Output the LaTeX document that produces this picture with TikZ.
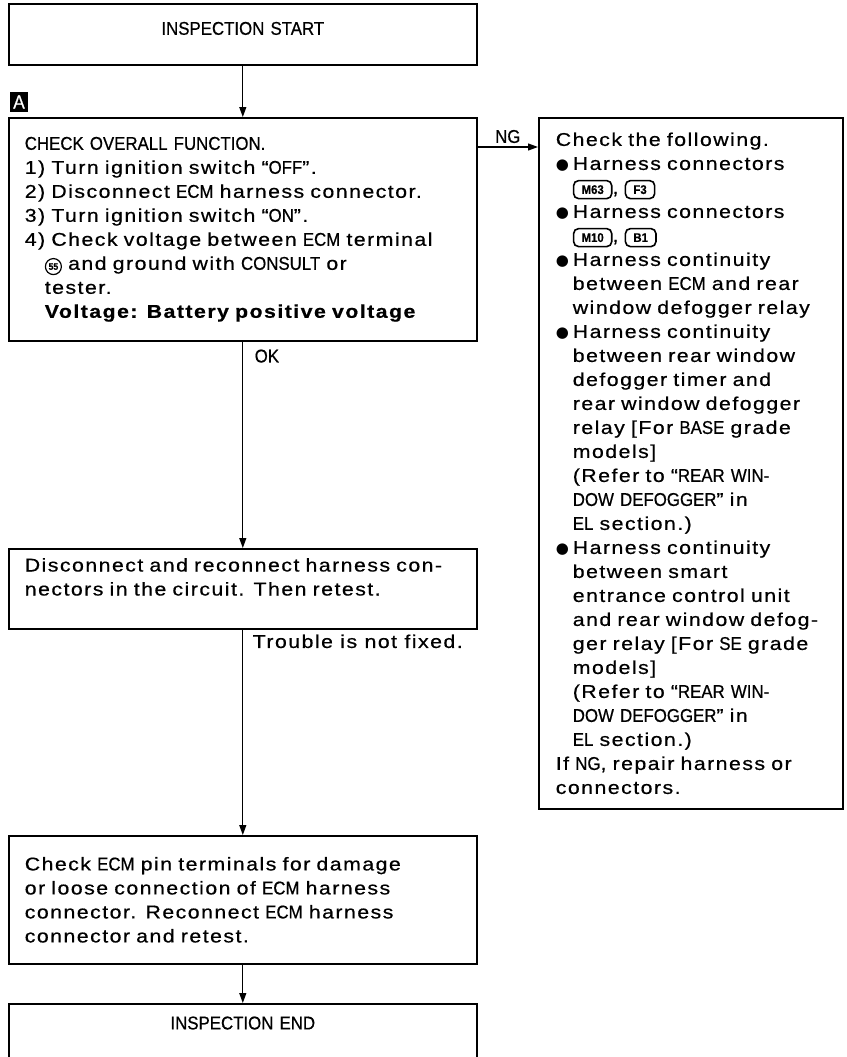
\documentclass[tikz,border=0pt]{standalone}
\usepackage{fontspec}
\setmainfont{Liberation Sans}[FakeStretch=1.15, LetterSpace=8, FakeBold=0.6]
\newfontfamily\capsfont{Liberation Sans}[FakeStretch=0.91, FakeBold=0.6]
\newfontfamily\symfont{DejaVu Sans}
\usetikzlibrary{arrows.meta}

\tikzset{
  flowbox/.style={draw, line width=1.6pt, anchor=north west, align=left,
    text width=436pt, inner xsep=16pt},
  sidebox/.style={draw, line width=1.6pt, anchor=north west, align=left,
    text width=280pt, inner xsep=12pt},
  badge/.style={fill=black, text=white, minimum width=18pt, minimum height=20pt,
    inner sep=0pt, font=\capsfont\fontsize{19}{19}\selectfont},
  connmark/.style={draw, line width=1.6pt, rounded corners=5pt, anchor=center,
    text width={}, align=center, minimum width=0pt, minimum height=18pt,
    inner xsep=8pt, inner ysep=2pt, font=\capsfont\fontsize{12.5}{12.5}\selectfont\bfseries},
  termmark/.style={draw, circle, line width=1.2pt, anchor=center, text width={},
    align=center, minimum width=16pt, minimum height=16pt, inner sep=0pt,
    font=\capsfont\fontsize{9.5}{9.5}\selectfont\bfseries},
  arr/.style={->, line width=1.2pt}
}

% caps runs, connector mark, circled terminal, bullet, indents
\newcommand\cp[1]{{\capsfont #1}}
\newcommand\conn[1]{\tikz[baseline=(c.base)]\node[connmark] (c) {#1};}
\newcommand\term[1]{\tikz[baseline=(t.base)]\node[termmark] (t) {#1};}
\newcommand\itm{\makebox[17pt][l]{\symfont\fontsize{15}{15}\selectfont ●}}
\newcommand\ind{\hspace*{17pt}}
\newcommand\stp{\hspace*{20pt}}
\newcommand\nowrap{\rightskip=0pt plus 1fil minus 100pt\relax}

\begin{document}
\begin{tikzpicture}[x=1pt, y=-1pt, >={Triangle[length=10pt,width=7pt]},
  font=\fontsize{18.5}{24}\selectfont]
  \useasboundingbox (0,0) rectangle (846,1057);
  \clip (0,0) rectangle (846,1057);

  % boxes of the main line
  \node[flowbox, align=center, text height=14pt, text depth=13pt, inner ysep=17pt] (start) at (8,3) {\cp{INSPECTION START}};
  \node[badge] (mark) at (19,102) {A};
  \node[flowbox, minimum height=223pt] (chk) at (8,117) {\nowrap\cp{CHECK OVERALL FUNCTION.}\\
    1) Turn ignition switch “\cp{OFF}”.\\
    2) Disconnect \cp{ECM} harness connector.\\
    3) Turn ignition switch “\cp{ON}”.\\
    4) Check voltage between \cp{ECM} terminal\\
    \stp\term{55} and ground with \cp{CONSULT} or\\
    \stp tester.\\
    \stp\textbf{Voltage: Battery positive voltage}\par};
  \node[flowbox, minimum height=80pt] (retry) at (8,548) {\nowrap Disconnect and reconnect harness con-\\
    nectors in the circuit. Then retest.\\ \mbox{}};
  \node[flowbox, minimum height=128pt] (pins) at (8,835) {\nowrap Check \cp{ECM} pin terminals for damage\\
    or loose connection of \cp{ECM} harness\\
    connector. Reconnect \cp{ECM} harness\\
    connector and retest.\par};
  \node[flowbox, align=center, text height=13.6pt, text depth=40pt, inner ysep=12pt] (finish) at (8,1003) {\cp{INSPECTION END}};

  % NG side box
  \node[sidebox, minimum height=691pt] (fix) at (538,117) {\nowrap\leftskip=5pt Check the following.\\
    \itm Harness connectors\\
    \ind\conn{M63}, \conn{F3}\\
    \itm Harness connectors\\
    \ind\conn{M10}, \conn{B1}\\
    \itm Harness continuity\\
    \ind between \cp{ECM} and rear\\
    \ind window defogger relay\\
    \itm Harness continuity\\
    \ind between rear window\\
    \ind defogger timer and\\
    \ind rear window defogger\\
    \ind relay [For \cp{BASE} grade\\
    \ind models]\\
    \ind (Refer to “\cp{REAR WIN-}\\
    \ind \cp{DOW DEFOGGER}” in\\
    \ind \cp{EL} section.)\\
    \itm Harness continuity\\
    \ind between smart\\
    \ind entrance control unit\\
    \ind and rear window defog-\\
    \ind ger relay [For \cp{SE} grade\\
    \ind models]\\
    \ind (Refer to “\cp{REAR WIN-}\\
    \ind \cp{DOW DEFOGGER}” in\\
    \ind \cp{EL} section.)\\
    If \cp{NG}, repair harness or\\
    connectors.\par};

  % connectors
  \draw[arr] (start) -- (chk);
  \draw[arr] ([yshift=-30pt]chk.north east) -- ([yshift=-30pt]fix.north west)
    node[midway, above] {\cp{NG}};
  \draw[arr] (chk) -- (retry) node[pos=0, below right, xshift=8pt, yshift=-4pt] {\cp{OK}};
  \draw[arr] (retry) -- (pins) node[pos=0, below right, xshift=6pt, yshift=-1pt] {Trouble is not fixed.};
  \draw[arr] (pins) -- (finish);
\end{tikzpicture}
\end{document}
